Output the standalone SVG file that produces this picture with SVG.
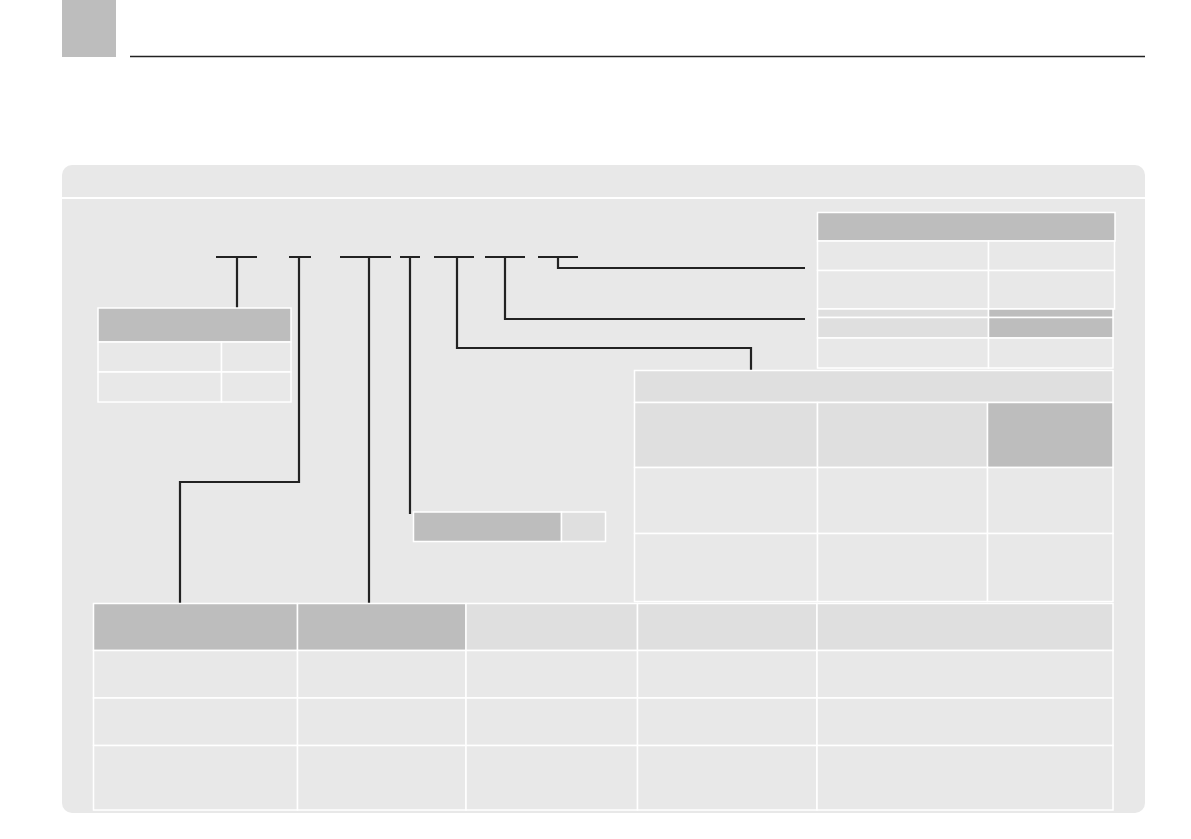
<svg xmlns="http://www.w3.org/2000/svg" width="1191" height="839" viewBox="0 0 1191 839">
<style>
.c{stroke:#ffffff;stroke-width:1.5}
.d{fill:#bdbdbd}
.m{fill:#dfdfdf}
.l{fill:#e8e8e8}
.k{fill:none;stroke:#222222;stroke-width:2.2}
</style>
<rect width="1191" height="839" fill="#ffffff"/>
<g id="tab-marker"><rect x="62" y="0" width="54" height="57" fill="#bdbdbd"/></g>
<line x1="130" y1="56.5" x2="1145" y2="56.5" stroke="#222222" stroke-width="1.5"/>
<g id="panel">
<rect x="62" y="165" width="1083" height="648" rx="10" fill="#e8e8e8"/>
<line x1="62" y1="198" x2="1145" y2="198" stroke="#ffffff" stroke-width="2"/>
</g>
<g id="connectors">
<path class="k" d="M216 257H257M237 257V308"/>
<path class="k" d="M289 257H311M299 257V482H180V603"/>
<path class="k" d="M340 257H391M369 257V603"/>
<path class="k" d="M400 257H420M410 257V514"/>
<path class="k" d="M434 257H474M457 257V348H751V370"/>
<path class="k" d="M485 257H525M505 257V319H805"/>
<path class="k" d="M538 257H578M558 257V268H805"/>
</g>
<g id="table-small">
<rect class="d c" x="98" y="308" width="193" height="34"/>
<rect class="l c" x="98" y="342" width="123.5" height="30"/>
<rect class="l c" x="221.5" y="342" width="69.5" height="30"/>
<rect class="l c" x="98" y="372" width="123.5" height="30"/>
<rect class="l c" x="221.5" y="372" width="69.5" height="30"/>
</g>
<g id="table-topright">
<rect class="d c" x="817.5" y="212.5" width="297.5" height="28.5"/>
<rect class="l c" x="817.5" y="241" width="171" height="29.5"/>
<rect class="l c" x="988.5" y="241" width="126" height="29.5"/>
<rect class="l c" x="817.5" y="270.5" width="171" height="38.5"/>
<rect class="l c" x="988.5" y="270.5" width="126" height="38.5"/>
<rect class="m c" x="817.5" y="309" width="171" height="8.5"/>
<rect class="d c" x="988.5" y="309" width="124.5" height="8.5"/>
<rect class="m c" x="817.5" y="317.5" width="171" height="20.5"/>
<rect class="d c" x="988.5" y="317.5" width="124.5" height="20.5"/>
<rect class="l c" x="817.5" y="338" width="171" height="30"/>
<rect class="l c" x="988.5" y="338" width="124.5" height="30"/>
</g>
<g id="table-middle">
<rect class="m c" x="634.5" y="370.5" width="478.5" height="32"/>
<rect class="m c" x="634.5" y="402.5" width="183" height="65"/>
<rect class="m c" x="817.5" y="402.5" width="170" height="65"/>
<rect class="d c" x="987.5" y="402.5" width="125.5" height="65"/>
<rect class="l c" x="634.5" y="467.5" width="183" height="66"/>
<rect class="l c" x="817.5" y="467.5" width="170" height="66"/>
<rect class="l c" x="987.5" y="467.5" width="125.5" height="66"/>
<rect class="l c" x="634.5" y="533.5" width="183" height="68"/>
<rect class="l c" x="817.5" y="533.5" width="170" height="68"/>
<rect class="l c" x="987.5" y="533.5" width="125.5" height="68"/>
</g>
<g id="box-small">
<rect class="d c" x="413.5" y="512" width="148" height="29.5"/>
<rect class="m c" x="561.5" y="512" width="44" height="29.5"/>
</g>
<g id="table-bottom">
<rect class="d c" x="93.5" y="603.5" width="204" height="47"/>
<rect class="d c" x="297.5" y="603.5" width="168.5" height="47"/>
<rect class="m c" x="466" y="603.5" width="171.5" height="47"/>
<rect class="m c" x="637.5" y="603.5" width="179.5" height="47"/>
<rect class="m c" x="817" y="603.5" width="296" height="47"/>
<rect class="l c" x="93.5" y="650.5" width="204" height="47.5"/>
<rect class="l c" x="297.5" y="650.5" width="168.5" height="47.5"/>
<rect class="l c" x="466" y="650.5" width="171.5" height="47.5"/>
<rect class="l c" x="637.5" y="650.5" width="179.5" height="47.5"/>
<rect class="l c" x="817" y="650.5" width="296" height="47.5"/>
<rect class="l c" x="93.5" y="698" width="204" height="47.5"/>
<rect class="l c" x="297.5" y="698" width="168.5" height="47.5"/>
<rect class="l c" x="466" y="698" width="171.5" height="47.5"/>
<rect class="l c" x="637.5" y="698" width="179.5" height="47.5"/>
<rect class="l c" x="817" y="698" width="296" height="47.5"/>
<rect class="l c" x="93.5" y="745.5" width="204" height="64.5"/>
<rect class="l c" x="297.5" y="745.5" width="168.5" height="64.5"/>
<rect class="l c" x="466" y="745.5" width="171.5" height="64.5"/>
<rect class="l c" x="637.5" y="745.5" width="179.5" height="64.5"/>
<rect class="l c" x="817" y="745.5" width="296" height="64.5"/>
</g>
</svg>
